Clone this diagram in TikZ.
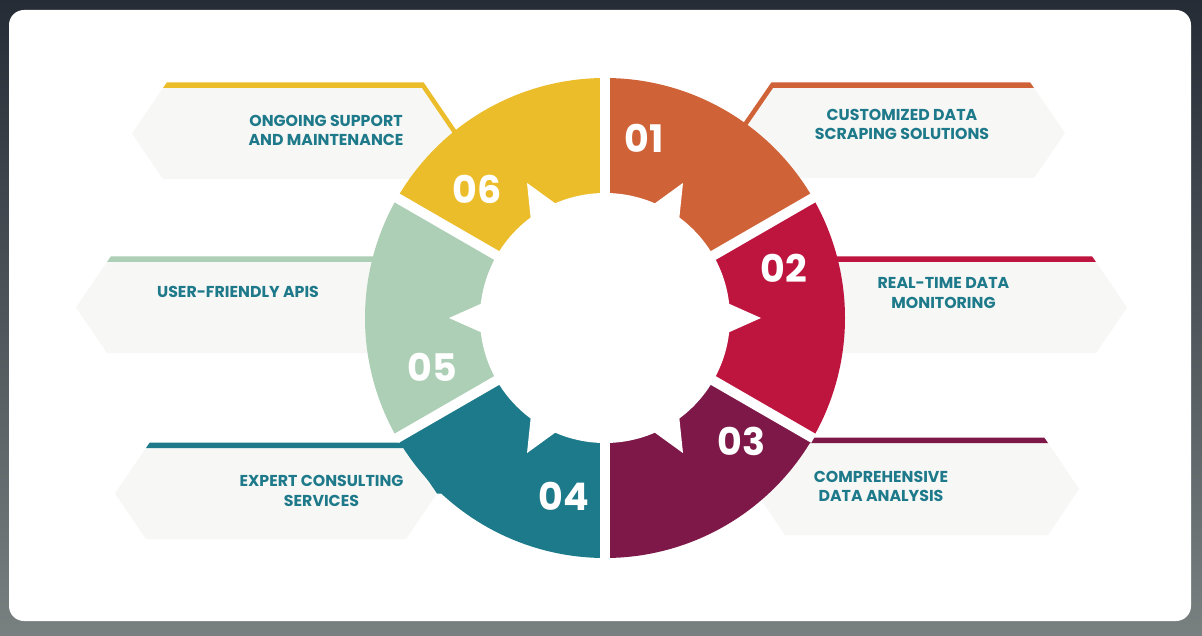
\documentclass[tikz,border=0pt]{standalone}
\usepackage{fontspec}
\setmainfont{Poppins}
\usetikzlibrary{calc}
\definecolor{c1}{RGB}{208,98,55}
\definecolor{c2}{RGB}{190,21,63}
\definecolor{c3}{RGB}{125,24,72}
\definecolor{c4}{RGB}{29,122,138}
\definecolor{c5}{RGB}{173,207,181}
\definecolor{c6}{RGB}{236,189,43}
\definecolor{boxgray}{RGB}{247,247,245}
\definecolor{labelteal}{RGB}{30,122,138}
\definecolor{bgtop}{RGB}{38,44,54}
\definecolor{bgbot}{RGB}{120,128,128}
\newcommand\hexbx[4]{(#1,{(#3+#4)/2}) -- ({#1+31},#3) -- ({#2-31},#3) -- (#2,{(#3+#4)/2}) -- ({#2-31},#4) -- ({#1+31},#4) -- cycle}
\newcommand\bandrt[4]{(#1,{(#3+#4)/2}) -- ({#1+31},#3) -- ({#2-31},#3) -- ({#2-34.8},{#3-5.5}) -- ({#1+29.3},{#3-5.5}) -- ({#1-5.5},{(#3+#4)/2}) -- cycle}
\newcommand\bandlf[4]{(#2,{(#3+#4)/2}) -- ({#2-31},#3) -- ({#1+31},#3) -- ({#1+34.8},{#3-5.5}) -- ({#2-29.3},{#3-5.5}) -- ({#2+5.5},{(#3+#4)/2}) -- cycle}
\begin{document}
\begin{tikzpicture}[x=1pt,y=-1pt,
  lbl/.style={text=labelteal, font=\fontsize{15.8}{19.3}\selectfont\bfseries, align=center, inner sep=0pt},
  num/.style={text=white, font=\fontsize{38}{38}\selectfont\bfseries, inner sep=0pt}]
\useasboundingbox (0,0) rectangle (1202,636);
\shade[top color=bgtop, bottom color=bgbot] (0,0) rectangle (1202,636);
\fill[white, rounded corners=15pt] (9,10) rectangle (1191,621);
% label boxes
\fill[boxgray] \hexbx{742}{1065}{88}{178};
\fill[c1] \bandrt{742}{1065}{88}{178};
\fill[boxgray] \hexbx{790}{1127}{262}{353};
\fill[c2] \bandrt{790}{1127}{262}{353};
\fill[boxgray] \hexbx{754}{1079}{443}{535};
\fill[c3] \bandrt{754}{1079}{443}{535};
\fill[boxgray] \hexbx{115}{437}{448}{539};
\fill[c4] \bandlf{115}{437}{448}{539};
\fill[boxgray] \hexbx{76}{420}{262}{353};
\fill[c5] \bandlf{76}{420}{262}{353};
\fill[boxgray] \hexbx{132}{453}{88}{179};
\fill[c6] \bandlf{132}{453}{88}{179};
% ring
\coordinate (c) at (605,318);
\foreach \a/\col in {-90/c1,-30/c2,30/c3,90/c4,150/c5,210/c6}
  \fill[\col] (c) -- ++(\a:240) arc[start angle=\a, end angle=\a+60, radius=240] -- cycle;
\foreach \a in {-90,-30,30,90,150,210}
  \draw[white, line width=10pt] (c) -- ++(\a:241);
\fill[white] (c) circle[radius=125];
\foreach \a in {-60,0,60,120,180,240}
  \fill[white] ($(c)+(\a:156)$) -- ($(c)+(\a:110)+(\a+90:20.5)$) -- ($(c)+(\a:110)+(\a-90:20.5)$) -- cycle;
% numbers
\node[num] (n1) at (644.5,138) {01};
\node[num] (n2) at (784,268) {02};
\node[num] (n3) at (741.5,441.5) {03};
\node[num] (n4) at (564,496.5) {04};
\node[num] (n5) at (432.5,367) {05};
\node[num] (n6) at (477,189) {06};
% labels
\node[lbl] (l1) at (902,124.5) {CUSTOMIZED DATA\\SCRAPING SOLUTIONS};
\node[lbl] (l2) at (943.5,293) {REAL-TIME DATA\\MONITORING};
\node[lbl] (l3) at (881,486.7) {COMPREHENSIVE\\DATA ANALYSIS};
\node[lbl] (l4) at (321.5,491) {EXPERT CONSULTING\\SERVICES};
\node[lbl] (l5) at (238,292.3) {USER-FRIENDLY APIS};
\node[lbl] (l6) at (326,130.7) {ONGOING SUPPORT\\AND MAINTENANCE};
\end{tikzpicture}
\end{document}
